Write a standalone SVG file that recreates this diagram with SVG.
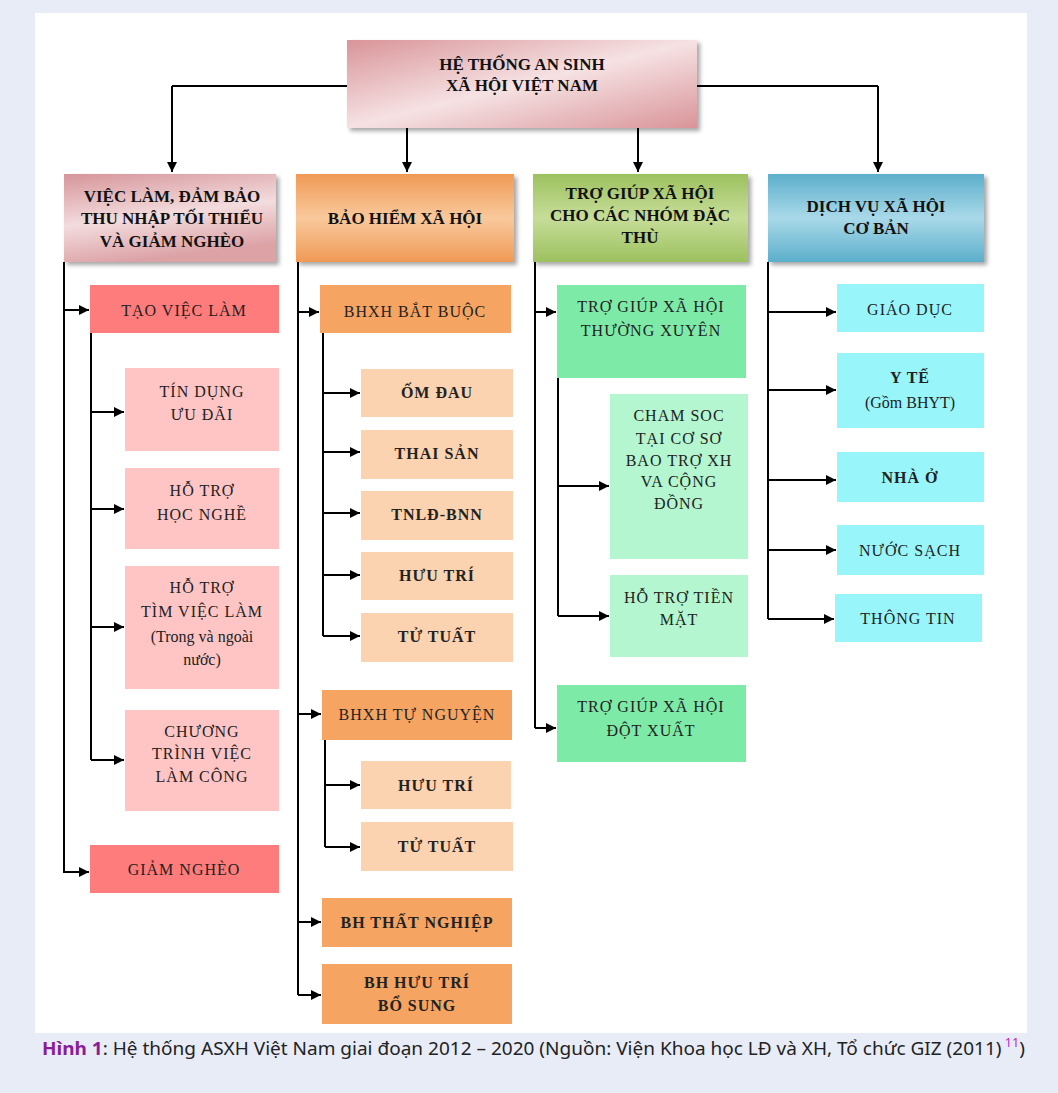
<svg xmlns="http://www.w3.org/2000/svg" width="1058" height="1093" viewBox="0 0 1058 1093">
<style>
.h{font-family:"Liberation Serif",serif;font-weight:bold;font-size:17px;fill:#111;text-anchor:middle;dominant-baseline:central}
.t{font-family:"Liberation Serif",serif;font-size:16px;fill:#222;text-anchor:middle;dominant-baseline:central;letter-spacing:1px}
.tb{font-weight:bold}
.c{stroke:#000;stroke-width:2;fill:none}
.ca{stroke:#000;stroke-width:2;fill:none;marker-end:url(#ah)}
.red{fill:#ff7c7c}.pink{fill:#ffc5c5}.or{fill:#f5a462}.peach{fill:#fbd3b0}.mint{fill:#7deaa8}.lmint{fill:#b3f6cf}.cyan{fill:#98f6fb}
.cap{font-family:"Noto Sans",sans-serif;font-size:18px;fill:#222}
</style>
<defs>
<marker id="ah" viewBox="0 0 10 10" refX="10" refY="5" markerWidth="5" markerHeight="5" orient="auto" markerUnits="strokeWidth"><path d="M0,0L10,5L0,10z" fill="#000"/></marker>
<filter id="sh" x="-10%" y="-10%" width="125%" height="130%"><feDropShadow dx="3" dy="3" stdDeviation="2" flood-color="#000" flood-opacity="0.35"/></filter>
<linearGradient id="gTop" x1="0" y1="0" x2="1" y2="1"><stop offset="0" stop-color="#d99499"/><stop offset="0.5" stop-color="#f6e2e3"/><stop offset="1" stop-color="#d99499"/></linearGradient>
<linearGradient id="gPink" x1="0" y1="0" x2="0.3" y2="1"><stop offset="0" stop-color="#d6959a"/><stop offset="0.55" stop-color="#f3dcdd"/><stop offset="1" stop-color="#dca2a6"/></linearGradient>
<linearGradient id="gOr" x1="0" y1="0" x2="0" y2="1"><stop offset="0" stop-color="#f09a55"/><stop offset="0.5" stop-color="#f9c99c"/><stop offset="1" stop-color="#f09a55"/></linearGradient>
<linearGradient id="gGr" x1="0" y1="0" x2="0" y2="1"><stop offset="0" stop-color="#9dc15f"/><stop offset="0.5" stop-color="#c6dd98"/><stop offset="1" stop-color="#9dc15f"/></linearGradient>
<linearGradient id="gBl" x1="0" y1="0" x2="0" y2="1"><stop offset="0" stop-color="#5cafcb"/><stop offset="0.5" stop-color="#a9d9e9"/><stop offset="1" stop-color="#5cafcb"/></linearGradient>
</defs>
<rect x="0" y="0" width="1058" height="1093" fill="#e8ecf7"/>
<rect x="35" y="13" width="992" height="1020" fill="#fff"/>

<g id="connectors">
<path class="c" d="M347,86H172M697,86H878"/>
<path class="ca" d="M172,86V172"/><path class="ca" d="M407,128V172"/><path class="ca" d="M638,128V172"/><path class="ca" d="M878,86V172"/>
<path class="c" d="M64,262V873M91,333V760"/>
<path class="ca" d="M64,310H89"/><path class="ca" d="M64,872H89"/><path class="ca" d="M91,412H124"/><path class="ca" d="M91,509H124"/><path class="ca" d="M91,627H124"/><path class="ca" d="M91,760H124"/>
<path class="c" d="M298,262V995M323,333V636M325,740V847"/>
<path class="ca" d="M298,312H319"/><path class="ca" d="M298,714H321"/><path class="ca" d="M298,922H321"/><path class="ca" d="M298,995H321"/>
<path class="ca" d="M323,393H360"/><path class="ca" d="M323,452H360"/><path class="ca" d="M323,513H360"/><path class="ca" d="M323,575H360"/><path class="ca" d="M323,636H360"/>
<path class="ca" d="M325,785H360"/><path class="ca" d="M325,847H360"/>
<path class="c" d="M535,262V728M558,378V616"/>
<path class="ca" d="M535,312H556"/><path class="ca" d="M535,728H556"/><path class="ca" d="M558,486H609"/><path class="ca" d="M558,616H609"/>
<path class="c" d="M768,262V619"/>
<path class="ca" d="M768,312H836"/><path class="ca" d="M768,390H836"/><path class="ca" d="M768,480H836"/><path class="ca" d="M768,550H836"/><path class="ca" d="M768,619H834"/>
</g>

<g id="root"><rect x="347" y="40" width="350" height="88" fill="url(#gTop)" filter="url(#sh)"/>
<text class="h" x="522" y="64">HỆ THỐNG AN SINH</text><text class="h" x="522" y="85">XÃ HỘI VIỆT NAM</text></g>

<g id="h1"><rect x="64" y="174" width="212" height="88" fill="url(#gPink)" filter="url(#sh)"/>
<text class="h" x="172" y="196">VIỆC LÀM, ĐẢM BẢO</text><text class="h" x="172" y="218">THU NHẬP TỐI THIỂU</text><text class="h" x="172" y="241">VÀ GIẢM NGHÈO</text></g>
<g id="h2"><rect x="296" y="174" width="218" height="88" fill="url(#gOr)" filter="url(#sh)"/>
<text class="h" x="405" y="218">BẢO HIỂM XÃ HỘI</text></g>
<g id="h3"><rect x="533" y="174" width="215" height="88" fill="url(#gGr)" filter="url(#sh)"/>
<text class="h" x="640" y="193">TRỢ GIÚP XÃ HỘI</text><text class="h" x="640" y="215">CHO CÁC NHÓM ĐẶC</text><text class="h" x="640" y="237">THÙ</text></g>
<g id="h4"><rect x="768" y="174" width="216" height="88" fill="url(#gBl)" filter="url(#sh)"/>
<text class="h" x="876" y="206">DỊCH VỤ XÃ HỘI</text><text class="h" x="876" y="228">CƠ BẢN</text></g>

<g id="c1a"><rect class="red" x="90" y="285" width="189" height="48"/><text class="t" x="184" y="310">TẠO VIỆC LÀM</text></g>
<g id="c1b"><rect class="pink" x="125" y="368" width="154" height="83"/><text class="t" x="202" y="391">TÍN DỤNG</text><text class="t" x="202" y="414">ƯU ĐÃI</text></g>
<g id="c1c"><rect class="pink" x="125" y="468" width="154" height="81"/><text class="t" x="202" y="490">HỖ TRỢ</text><text class="t" x="202" y="514">HỌC NGHỀ</text></g>
<g id="c1d"><rect class="pink" x="125" y="566" width="154" height="123"/><text class="t" x="202" y="587">HỖ TRỢ</text><text class="t" x="202" y="611">TÌM VIỆC LÀM</text><text class="t" x="202" y="636" style="letter-spacing:0">(Trong và ngoài</text><text class="t" x="202" y="659" style="letter-spacing:0">nước)</text></g>
<g id="c1e"><rect class="pink" x="125" y="710" width="154" height="101"/><text class="t" x="202" y="731">CHƯƠNG</text><text class="t" x="202" y="753">TRÌNH VIỆC</text><text class="t" x="202" y="776">LÀM CÔNG</text></g>
<g id="c1f"><rect class="red" x="90" y="845" width="189" height="48"/><text class="t" x="184" y="869">GIẢM NGHÈO</text></g>

<g id="c2a"><rect class="or" x="320" y="285" width="191" height="48"/><text class="t" x="415" y="311">BHXH BẮT BUỘC</text></g>
<g id="c2b"><rect class="peach" x="361" y="369" width="152" height="48"/><text class="t tb" x="437" y="392">ỐM ĐAU</text></g>
<g id="c2c"><rect class="peach" x="361" y="430" width="152" height="49"/><text class="t tb" x="437" y="453">THAI SẢN</text></g>
<g id="c2d"><rect class="peach" x="361" y="491" width="152" height="49"/><text class="t tb" x="437" y="514">TNLĐ-BNN</text></g>
<g id="c2e"><rect class="peach" x="361" y="552" width="152" height="48"/><text class="t tb" x="437" y="575">HƯU TRÍ</text></g>
<g id="c2f"><rect class="peach" x="361" y="613" width="152" height="49"/><text class="t tb" x="437" y="636">TỬ TUẤT</text></g>
<g id="c2g"><rect class="or" x="322" y="690" width="190" height="50"/><text class="t" x="417" y="714">BHXH TỰ NGUYỆN</text></g>
<g id="c2h"><rect class="peach" x="361" y="761" width="150" height="48"/><text class="t tb" x="436" y="785">HƯU TRÍ</text></g>
<g id="c2i"><rect class="peach" x="361" y="822" width="152" height="49"/><text class="t tb" x="437" y="846">TỬ TUẤT</text></g>
<g id="c2j"><rect class="or" x="322" y="898" width="190" height="49"/><text class="t tb" x="417" y="922">BH THẤT NGHIỆP</text></g>
<g id="c2k"><rect class="or" x="322" y="964" width="190" height="60"/><text class="t tb" x="417" y="982">BH HƯU TRÍ</text><text class="t tb" x="417" y="1005">BỔ SUNG</text></g>

<g id="c3a"><rect class="mint" x="557" y="285" width="189" height="93"/><text class="t" x="651" y="306">TRỢ GIÚP XÃ HỘI</text><text class="t" x="651" y="330">THƯỜNG XUYÊN</text></g>
<g id="c3b"><rect class="lmint" x="610" y="394" width="138" height="165"/><text class="t" x="679" y="415">CHAM SOC</text><text class="t" x="679" y="438">TẠI CƠ SƠ</text><text class="t" x="679" y="460">BAO TRỢ XH</text><text class="t" x="679" y="481">VA CỘNG</text><text class="t" x="679" y="503">ĐỒNG</text></g>
<g id="c3c"><rect class="lmint" x="610" y="575" width="138" height="82"/><text class="t" x="679" y="597">HỖ TRỢ TIỀN</text><text class="t" x="679" y="619">MẶT</text></g>
<g id="c3d"><rect class="mint" x="557" y="685" width="189" height="77"/><text class="t" x="651" y="706">TRỢ GIÚP XÃ HỘI</text><text class="t" x="651" y="730">ĐỘT XUẤT</text></g>

<g id="c4a"><rect class="cyan" x="837" y="284" width="147" height="48"/><text class="t" x="910" y="309">GIÁO DỤC</text></g>
<g id="c4b"><rect class="cyan" x="837" y="353" width="147" height="75"/><text class="t tb" x="910" y="377">Y TẾ</text><text class="t" x="910" y="402" style="letter-spacing:0">(Gồm BHYT)</text></g>
<g id="c4c"><rect class="cyan" x="837" y="452" width="147" height="50"/><text class="t tb" x="910" y="477">NHÀ Ở</text></g>
<g id="c4d"><rect class="cyan" x="837" y="525" width="147" height="50"/><text class="t" x="910" y="550">NƯỚC SẠCH</text></g>
<g id="c4e"><rect class="cyan" x="835" y="594" width="147" height="48"/><text class="t" x="908" y="618">THÔNG TIN</text></g>

<text class="cap" x="42" y="1055" textLength="983" lengthAdjust="spacingAndGlyphs"><tspan fill="#8a1c9a" font-weight="bold">Hình 1</tspan>: Hệ thống ASXH Việt Nam giai đoạn 2012 – 2020 (Nguồn: Viện Khoa học LĐ và XH, Tổ chức GIZ (2011)<tspan fill="#c02ac8" font-size="12" dy="-8"> 11</tspan><tspan dy="8">)</tspan></text>
</svg>
